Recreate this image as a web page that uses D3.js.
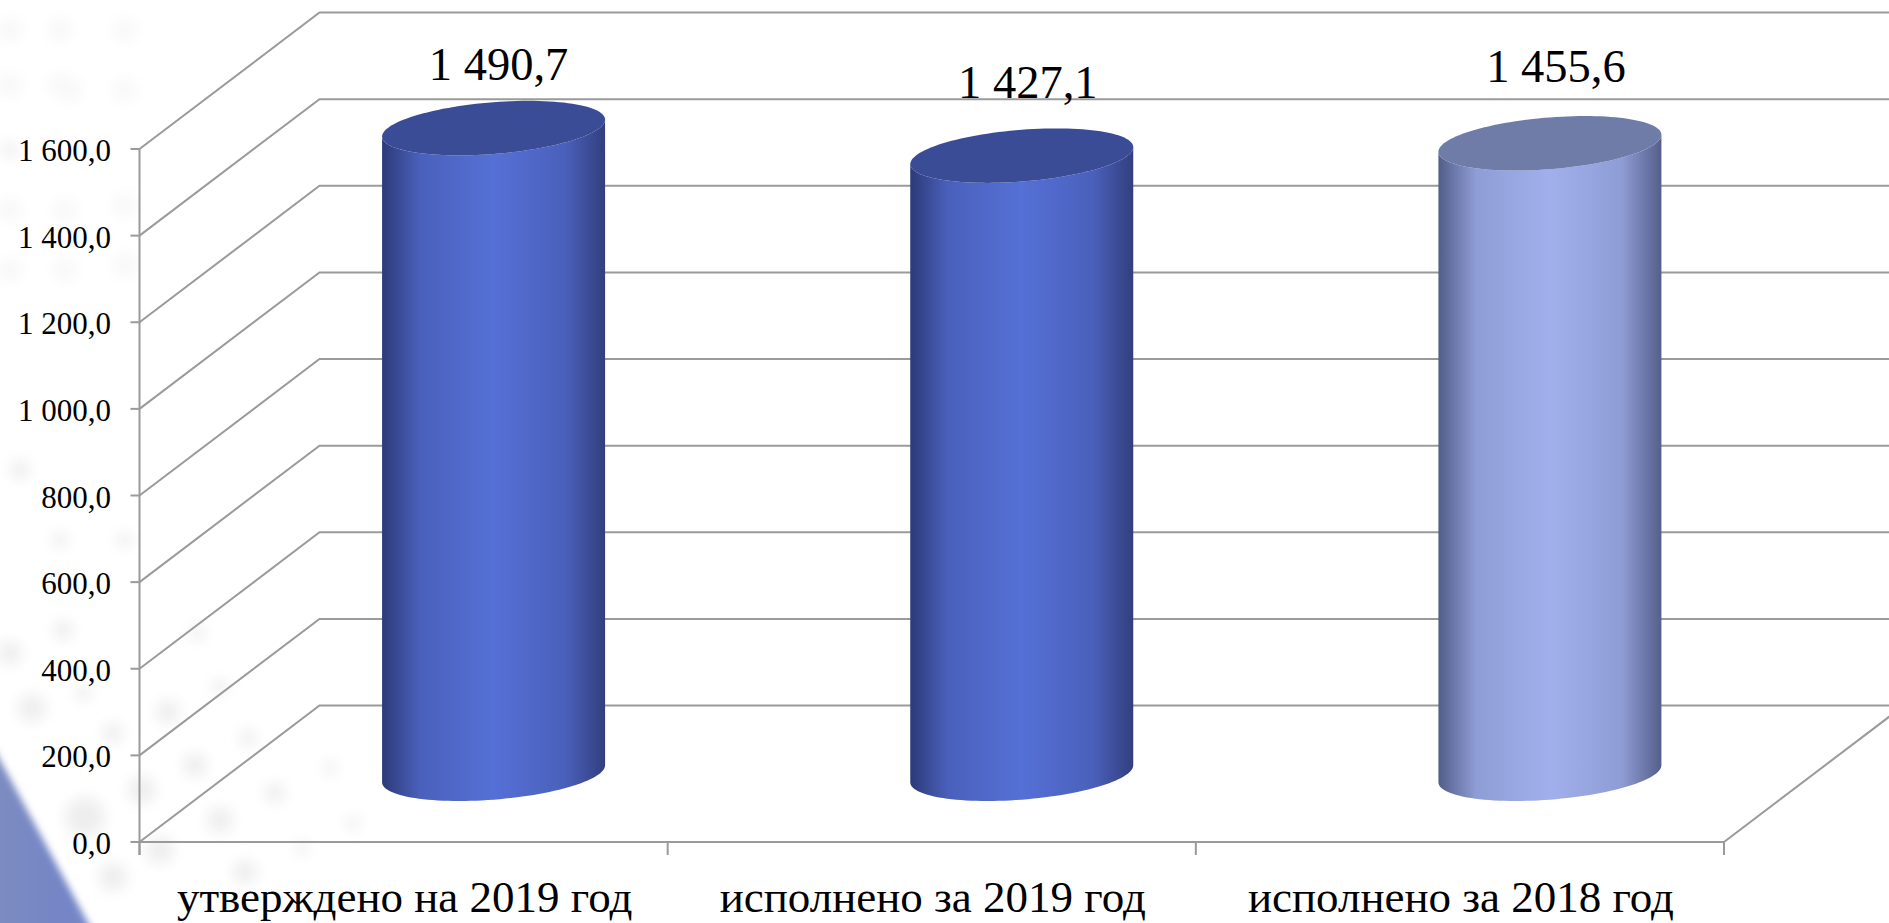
<!DOCTYPE html>
<html><head><meta charset="utf-8">
<script src="https://cdn.jsdelivr.net/npm/d3@7/dist/d3.min.js"></script>
<style>html,body{margin:0;padding:0;background:#fff;overflow:hidden}svg{display:block}text{font-family:"Liberation Serif","Times New Roman",serif;fill:#000}</style>
</head><body><script>
const categories = ["утверждено на 2019 год","исполнено за 2019 год","исполнено за 2018 год"];
const values = [1490.7,1427.1,1455.6];
const valueLabels = ["1 490,7","1 427,1","1 455,6"];
const yTicks = [0,200,400,600,800,1000,1200,1400,1600];
const yTickLabels = ["0,0","200,0","400,0","600,0","800,0","1 000,0","1 200,0","1 400,0","1 600,0"];
const W=1889,H=923;
const depthX=180,depthY=136.5;
const y=d3.scaleLinear().domain([0,1600]).range([842,149]);
const x=d3.scaleBand().domain(categories).range([139.5,1724]);
const svg=d3.select("body").append("svg").attr("width",W).attr("height",H);
const defs=svg.append("defs");
const tri=defs.append("linearGradient").attr("id","tri").attr("x1",0).attr("y1",0).attr("x2",1).attr("y2",0);
tri.append("stop").attr("offset",0).attr("stop-color","#7f8dc0");
tri.append("stop").attr("offset",.7).attr("stop-color","#7385c6");
tri.append("stop").attr("offset",1).attr("stop-color","#7a8ac8");
defs.append("filter").attr("id","soft").append("feGaussianBlur").attr("stdDeviation",3.5);
defs.append("filter").attr("id","dot").attr("filterUnits","userSpaceOnUse").attr("x",-50).attr("y",-50).attr("width",600).attr("height",1050)
  .append("feGaussianBlur").attr("stdDeviation",7);
// faint background texture
const bgDots=[[32,708,14],[63,630,10],[10,653,12],[168,712,12],[195,765,12],[248,738,9],[275,793,10],[220,820,13],[142,790,14],[85,817,20],[330,768,7],[302,848,7],[245,872,12],[160,850,14],[113,877,14],[353,823,7],[113,733,10],[220,687,8],[83,693,8],[197,633,8],[20,470,10],[60,540,8],[125,540,8],[10,150,8]];
const bgFaint=[[10,30],[60,30],[125,30],[10,85],[60,85],[125,90],[10,210],[65,210],[125,205],[65,270],[125,265],[70,90],[10,270]];
svg.append("g").attr("filter","url(#dot)").selectAll("circle").data(bgDots).join("circle")
  .attr("cx",d=>d[0]).attr("cy",d=>d[1]).attr("r",d=>d[2]).attr("fill","#eeeeee");
svg.append("g").attr("filter","url(#dot)").selectAll("circle").data(bgFaint).join("circle")
  .attr("cx",d=>d[0]).attr("cy",d=>d[1]).attr("r",12).attr("fill","#f8f8f8");
svg.append("path").attr("d",d3.line()([[-20,724],[0,760],[100,945],[-20,945]])).attr("fill","url(#tri)").attr("filter","url(#soft)");
const grid="#9a9a9a";
const g=svg.append("g").attr("fill","none").attr("stroke",grid).attr("stroke-width",2);
yTicks.forEach(t=>{
  g.append("path").attr("d",d3.line()([[x.range()[0],y(t)],[x.range()[0]+depthX,y(t)-depthY],[W,y(t)-depthY]]));
  g.append("line").attr("x1",x.range()[0]-9).attr("x2",x.range()[0]).attr("y1",y(t)).attr("y2",y(t));
});
g.append("line").attr("x1",139.5).attr("x2",139.5).attr("y1",y(1600)).attr("y2",855);
g.append("line").attr("x1",139.5).attr("x2",1724).attr("y1",842).attr("y2",842);
g.append("line").attr("x1",1724).attr("x2",1724+depthX).attr("y1",842).attr("y2",842-depthY);
[...categories.map(c=>x(c)),1724].forEach(v=>g.append("line").attr("x1",v).attr("x2",v).attr("y1",842).attr("y2",855));
const rx=111.5,skew=-8.5,ry=25.9;
const pt=(cx,cy,t)=>[cx+rx*Math.cos(t),cy+skew*Math.cos(t)+ry*Math.sin(t)];
const palettes=[
 {edge:"#2d3a78",mid:"#4a60bb",light:"#5570d6",edge2:"#323f7e",top:"#3a4c96"},
 {edge:"#2d3a78",mid:"#4a60bb",light:"#5570d6",edge2:"#323f7e",top:"#3a4c96"},
 {edge:"#525d88",mid:"#8f9dd6",light:"#a1afec",edge2:"#555f8a",top:"#6f7ca8"}];
palettes.forEach((p,i)=>{
 const gr=defs.append("linearGradient").attr("id","c"+i);
 [[0,p.edge],[.17,p.mid],[.5,p.light],[.82,p.mid],[1,p.edge2]].forEach(s=>gr.append("stop").attr("offset",s[0]).attr("stop-color",s[1]));
});
const labelOffsets=[-21,-31,-34];
const line=d3.line();
categories.forEach((c,i)=>{
 const cx=x(c)+x.bandwidth()/2+depthX/2;
 const by=y(0)-depthY/2, ty=y(values[i])-depthY/2;
 const bottomArc=d3.range(0,181,3).map(a=>pt(cx,by,a*Math.PI/180));
 const topArc=d3.range(180,-1,-3).map(a=>pt(cx,ty,a*Math.PI/180));
 svg.append("path").attr("d",line(bottomArc.concat(topArc))+"Z").attr("fill",`url(#c${i})`);
 const ell=d3.range(0,360,3).map(a=>pt(cx,ty,a*Math.PI/180));
 svg.append("path").attr("d",line(ell)+"Z").attr("fill",palettes[i].top);
 svg.append("text").attr("x",cx+(i?6:5)).attr("y",ty-27+labelOffsets[i]).attr("text-anchor","middle").attr("font-size",46.5).text(valueLabels[i]);
});
yTicks.forEach((t,i)=>svg.append("text").attr("x",111).attr("y",y(t)+12).attr("text-anchor","end").attr("font-size",31).text(yTickLabels[i]));
categories.forEach(c=>svg.append("text").attr("x",x(c)+x.bandwidth()/2+1).attr("y",912).attr("text-anchor","middle").attr("font-size",45).text(c));
</script></body></html>
